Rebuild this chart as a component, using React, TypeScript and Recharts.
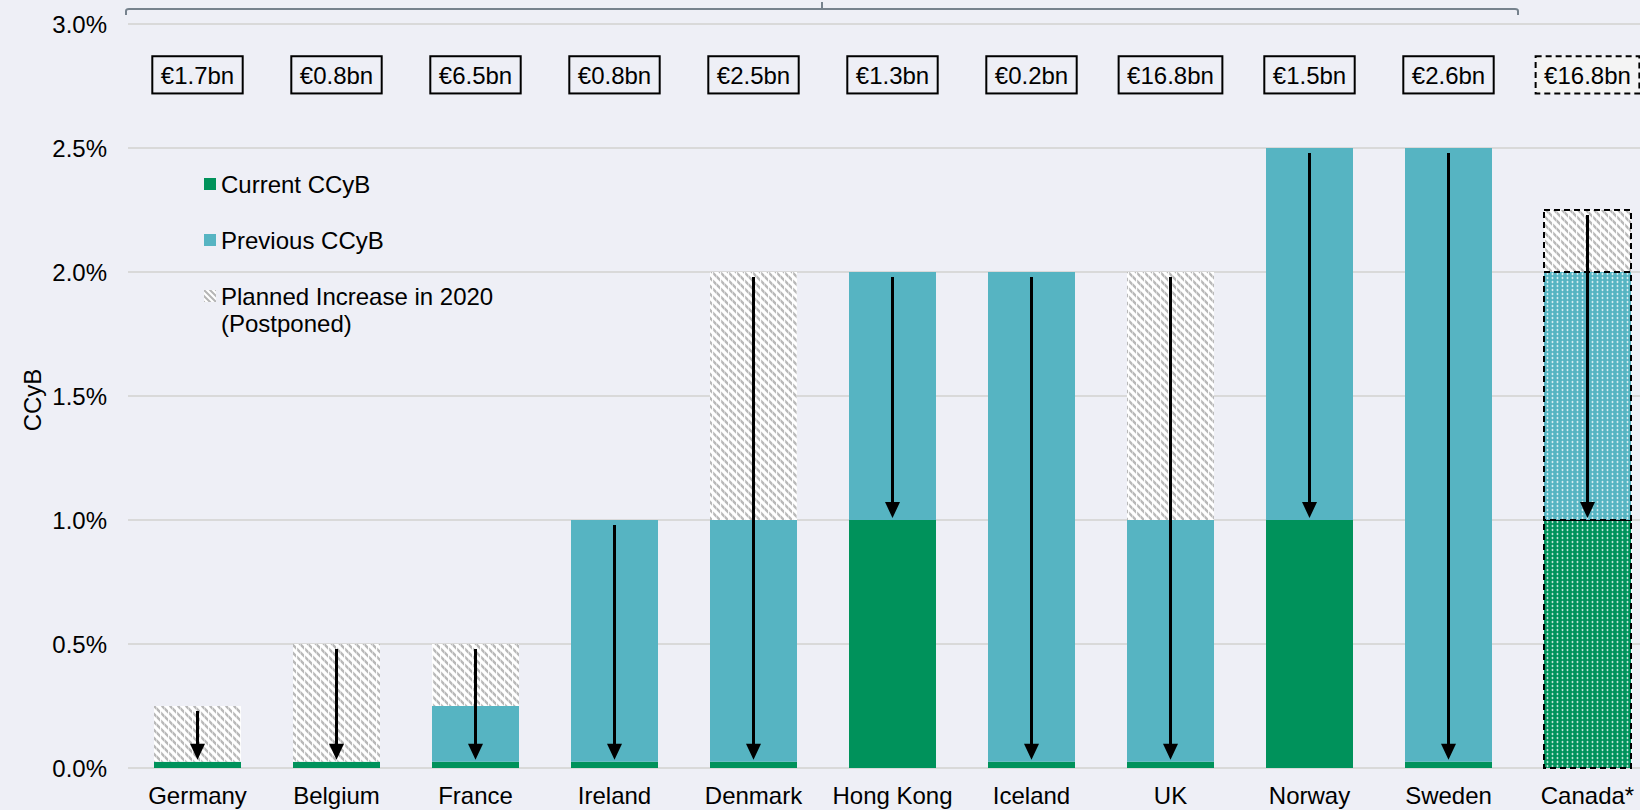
import React from 'react';
import { ComposedChart, Bar, XAxis, YAxis, CartesianGrid, Cell, Legend, Label } from 'recharts';

const FONT = '"Liberation Sans", Arial, Helvetica, sans-serif';
const BG = '#EEEFF6';
const GREEN = '#00925B';
const TEAL = '#56B4C2';
const GRID = '#D9D9D9';

// ---- data ----
const countries = ['Germany', 'Belgium', 'France', 'Ireland', 'Denmark', 'Hong Kong', 'Iceland', 'UK', 'Norway', 'Sweden', 'Canada*'];
const currentCCyB = [0.025, 0.025, 0.025, 0.025, 0.025, 1.0, 0.025, 0.025, 1.0, 0.025, 1.0];
const previousCCyB = [0, 0, 0.25, 1.0, 1.0, 2.0, 2.0, 1.0, 2.5, 2.5, 2.0];
const plannedCCyB = [0.25, 0.5, 0.5, 0, 2.0, 0, 0, 2.0, 0, 0, 2.25];
const capitalReleased = ['€1.7bn', '€0.8bn', '€6.5bn', '€0.8bn', '€2.5bn', '€1.3bn', '€0.2bn', '€16.8bn', '€1.5bn', '€2.6bn', '€16.8bn'];
const yTicks = [0, 0.5, 1.0, 1.5, 2.0, 2.5, 3.0];
const pendingCountry = 'Canada*';
const labelBand: [number, number] = [2.72, 2.87];

const legendItems = [
  { name: 'Current CCyB', fill: GREEN },
  { name: 'Previous CCyB', fill: TEAL },
  { name: 'Planned Increase in 2020\n(Postponed)', fill: 'url(#hatchL)' },
];

const rows = countries.map((country, i) => {
  const cur = currentCCyB[i];
  const prevTop = Math.max(previousCCyB[i], cur);
  const top = Math.max(prevTop, plannedCCyB[i]);
  return {
    country,
    current: cur,
    previous: prevTop - cur,
    planned: top - prevTop,
    arrow: [cur, top],
    box: labelBand,
    label: capitalReleased[i],
    pending: country === pendingCountry,
  };
});

// ---- layout ----
const CHART_W = 1657;
const CHART_H = 810;
const Y_W = 128;
const TOP = 24;
const BAR = 87;
const FS = 24;

const charW: Record<string, number> = { '.': 0.278, b: 0.556, n: 0.556, '€': 0.556 };
const textWidth = (s: string) => s.split('').reduce((a, c) => a + (charW[c] ?? 0.556), 0) * FS;

const ArrowShape = (props: any) => {
  const { x, y, width, height } = props;
  if (height == null || height <= 0) return null;
  const cx = x + width / 2;
  const y1 = y + 5;
  const y2 = y + height - 2;
  const head = 16;
  return (
    <g>
      <line x1={cx} y1={y1} x2={cx} y2={y2 - head + 2} stroke="#000" strokeWidth={3} />
      <polygon points={`${cx - 7.5},${y2 - head} ${cx + 7.5},${y2 - head} ${cx},${y2}`} fill="#000" />
    </g>
  );
};

const BoxShape = (props: any) => {
  const { x, y, width, height, index } = props;
  const row = rows[index] ?? props.payload;
  const label = row?.label ?? '';
  const pending = row?.pending;
  const cx = x + width / 2;
  const w = textWidth(label) + 17;
  return (
    <g>
      <rect
        x={cx - w / 2}
        y={y}
        width={w}
        height={height}
        fill={pending ? '#F4F4F4' : BG}
        stroke="#000"
        strokeWidth={2}
        strokeDasharray={pending ? '6 4' : undefined}
      />
      <text x={cx} y={y + height / 2 + 1} textAnchor="middle" dominantBaseline="central" fontSize={FS} fontFamily={FONT} fill="#000">
        {label}
      </text>
    </g>
  );
};

const renderLegend = () => (
  <div style={{ position: 'relative', width: 330, height: 170, fontFamily: FONT, fontSize: FS, color: '#000' }}>
    {legendItems.map((it, i) => {
      const center = 16 + i * 56;
      const lines = it.name.split('\n');
      return (
        <div key={it.name}>
          <svg width={12} height={12} style={{ position: 'absolute', left: 0, top: center - 6 }}>
            <defs>
              <pattern id="hatchL" width="6" height="6" patternUnits="userSpaceOnUse">
                <rect width="6" height="6" fill="#FFFFFF" />
                <path d="M-2,-2 L8,8 M-5,1 L1,7 M1,-5 L7,1" stroke="#B5B5B5" strokeWidth={2} />
              </pattern>
            </defs>
            <rect x={0} y={0} width={12} height={12} fill={it.fill} />
          </svg>
          <div style={{ position: 'absolute', left: 17, top: center - 13.5, lineHeight: '27px', whiteSpace: 'nowrap' }}>
            {lines.map((l) => (
              <div key={l}>{l}</div>
            ))}
          </div>
        </div>
      );
    })}
  </div>
);

const band = (CHART_W - Y_W) / countries.length;
const bx0 = Y_W - 2;
const bx1 = Y_W + band * (countries.length - 1);
const bmid = (bx0 + bx1) / 2;

export default function App() {
  return (
    <div style={{ position: 'fixed', left: 0, top: 0, width: 1640, height: 810, overflow: 'hidden', background: BG }}>
      <ComposedChart width={CHART_W} height={CHART_H} data={rows} margin={{ top: TOP, right: 0, bottom: 0, left: 0 }}>
        <defs>
          <pattern id="hatch" width="8" height="8" patternUnits="userSpaceOnUse">
            <rect width="8" height="8" fill="#FFFFFF" />
            <path d="M-2,-2 L10,10 M-6,2 L2,10 M2,-6 L10,2" stroke="#B8B8B8" strokeWidth={2.4} />
            <rect x="0" y="0" width="1.2" height="8" fill="#FFFFFF" opacity={0.9} />
            <rect x="4" y="0" width="0.8" height="8" fill="#FFFFFF" opacity={0.5} />
          </pattern>
          <pattern id="dotsGreen" width="5" height="4" patternUnits="userSpaceOnUse">
            <rect width="5" height="4" fill={GREEN} />
            <ellipse cx="2.5" cy="2" rx="0.9" ry="1.2" fill="#FFFFFF" opacity={0.75} />
          </pattern>
          <pattern id="dotsTeal" width="5" height="4" patternUnits="userSpaceOnUse">
            <rect width="5" height="4" fill={TEAL} />
            <ellipse cx="2.5" cy="2" rx="0.9" ry="1.2" fill="#FFFFFF" opacity={0.75} />
          </pattern>
        </defs>
        <CartesianGrid vertical={false} stroke={GRID} strokeWidth={2} />
        <XAxis
          dataKey="country"
          axisLine={false}
          tickLine={false}
          tickSize={6}
          tickMargin={13}
          height={CHART_H - TOP - 744}
          interval={0}
          tick={{ fontSize: FS, fontFamily: FONT, fill: '#000' }}
        />
        <XAxis xAxisId="arrow" dataKey="country" hide />
        <XAxis xAxisId="box" dataKey="country" hide />
        <YAxis
          domain={[0, 3]}
          ticks={yTicks}
          width={Y_W}
          axisLine={false}
          tickLine={false}
          tickSize={6}
          tickMargin={15}
          tickFormatter={(v: number) => `${v.toFixed(1)}%`}
          tick={{ fontSize: FS, fontFamily: FONT, fill: '#000' }}
        >
          <Label
            content={(p: any) => {
              const vb = p.viewBox || {};
              const cx = 32;
              const cy = (vb.y ?? TOP) + (vb.height ?? 744) / 2 + 4;
              return (
                <text x={cx} y={cy} transform={`rotate(-90 ${cx} ${cy})`} textAnchor="middle" dominantBaseline="central" fontSize={FS} fontFamily={FONT} fill="#000">
                  CCyB
                </text>
              );
            }}
          />
        </YAxis>
        <Legend layout="vertical" align="center" verticalAlign="middle" content={renderLegend} wrapperStyle={{ left: 204, top: 168, width: 330, height: 170 }} />
        <Bar dataKey="current" name="Current CCyB" stackId="s" barSize={BAR} isAnimationActive={false}>
          {rows.map((r) => (
            <Cell key={r.country} fill={r.pending ? 'url(#dotsGreen)' : GREEN} stroke={r.pending ? '#000' : 'none'} strokeWidth={r.pending ? 2 : 0} strokeDasharray={r.pending ? '6 4' : undefined} />
          ))}
        </Bar>
        <Bar dataKey="previous" name="Previous CCyB" stackId="s" barSize={BAR} isAnimationActive={false}>
          {rows.map((r) => (
            <Cell key={r.country} fill={r.pending ? 'url(#dotsTeal)' : TEAL} stroke={r.pending ? '#000' : 'none'} strokeWidth={r.pending ? 2 : 0} strokeDasharray={r.pending ? '6 4' : undefined} />
          ))}
        </Bar>
        <Bar dataKey="planned" name="Planned Increase in 2020 (Postponed)" stackId="s" barSize={BAR} isAnimationActive={false}>
          {rows.map((r) => (
            <Cell key={r.country} fill="url(#hatch)" stroke={r.pending ? '#000' : 'none'} strokeWidth={r.pending ? 2 : 0} strokeDasharray={r.pending ? '6 4' : undefined} />
          ))}
        </Bar>
        <Bar xAxisId="arrow" dataKey="arrow" barSize={BAR} isAnimationActive={false} shape={ArrowShape} legendType="none" />
        <Bar xAxisId="box" dataKey="box" barSize={BAR} isAnimationActive={false} shape={BoxShape} legendType="none" />
        <path
          d={`M${bx0},15 L${bx0},11 Q${bx0},9 ${bx0 + 3},9 L${bx1 - 3},9 Q${bx1},9 ${bx1},11 L${bx1},15 M${bmid},9 L${bmid},2`}
          fill="none"
          stroke="#76828D"
          strokeWidth={2}
        />
      </ComposedChart>
    </div>
  );
}
